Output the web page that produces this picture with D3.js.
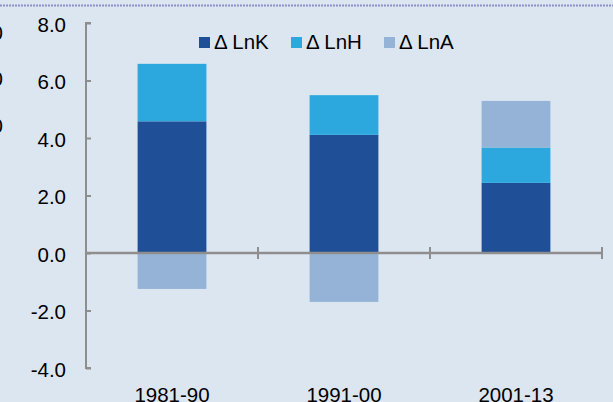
<!DOCTYPE html>
<html><head><meta charset="utf-8">
<script src="https://cdn.jsdelivr.net/npm/d3@7"></script>
<style>
html,body{margin:0;padding:0;background:#DCE6F1;}
svg{display:block;font-family:"Liberation Sans",Arial,sans-serif;}
</style></head>
<body>
<svg id="chart" width="613" height="402"></svg>
<script>
const categories = ["1981-90", "1991-00", "2001-13"];
const seriesNames = ["Δ LnK", "Δ LnH", "Δ LnA"];
const lnK = [4.58, 4.11, 2.44];
const lnH = [2.00, 1.38, 1.23];
const lnA = [-1.25, -1.70, 1.62];
const yTicks = [-4, -2, 0, 2, 4, 6, 8];
const colors = ["#1F4F97", "#2CA8DE", "#95B3D7"];

const svg = d3.select("#chart");
const W = 613, H = 402;
const FS = 20.5;
svg.append("rect").attr("width", W).attr("height", H).attr("fill", "#DCE6F1");

// dotted top border
svg.append("line").attr("x1", 0).attr("x2", W).attr("y1", 5.5).attr("y2", 5.5)
  .attr("stroke", "#8C90C8").attr("stroke-width", 2).attr("stroke-dasharray", "2,1");

// cut-off glyphs of neighbouring chart at left edge
[33, 79, 126].forEach(yy => {
  svg.append("text").attr("x", 3).attr("y", yy + 7)
    .attr("text-anchor", "end").attr("font-size", FS).attr("fill", "#000").text("0");
});

const table = categories.map((c, i) => ({cat: c, "Δ LnK": lnK[i], "Δ LnH": lnH[i], "Δ LnA": lnA[i]}));

const x = d3.scaleBand().domain(categories).range([86, 602]).paddingInner(0.6).paddingOuter(0.3);
const y = d3.scaleLinear().domain([-4, 8]).range([368, 23]);

const stack = d3.stack().keys(seriesNames).offset(d3.stackOffsetDiverging);
const layers = stack(table);

svg.append("g").selectAll("g").data(layers).join("g")
  .attr("fill", (d, i) => colors[i])
  .selectAll("rect").data(d => d).join("rect")
  .attr("x", d => x(d.data.cat))
  .attr("width", x.bandwidth())
  .attr("y", d => y(Math.max(d[0], d[1])))
  .attr("height", d => Math.abs(y(d[0]) - y(d[1])));

const axisColor = "#8E8E8E";
// y axis
const yAxis = svg.append("g").attr("transform", "translate(86,0)")
  .call(d3.axisRight(y).tickValues(yTicks).tickSize(5).tickFormat(""));
yAxis.select(".domain").attr("d", `M5,${y(8)}H0V${y(-4)}H5`).attr("stroke", axisColor).attr("stroke-width", 2);
yAxis.selectAll(".tick line").attr("stroke", axisColor).attr("stroke-width", 2);

svg.append("g").selectAll("text").data(yTicks).join("text")
  .attr("x", 66).attr("y", d => y(d) + 8.5)
  .attr("text-anchor", "end").attr("font-size", FS).attr("fill", "#000")
  .text(d => d.toFixed(1));

// x axis at zero
svg.append("line").attr("x1", 86).attr("x2", 603).attr("y1", y(0)).attr("y2", y(0))
  .attr("stroke", axisColor).attr("stroke-width", 2.5);
const tickXs = categories.map(c => x(c) + x.bandwidth() / 2 + x.step() / 2);
svg.append("g").selectAll("line").data(tickXs).join("line")
  .attr("x1", d => d).attr("x2", d => d).attr("y1", y(0) - 6).attr("y2", y(0) + 6)
  .attr("stroke", axisColor).attr("stroke-width", 2);

// x labels
svg.append("g").selectAll("text").data(categories).join("text")
  .attr("x", d => x(d) + x.bandwidth() / 2).attr("y", 401.5)
  .attr("text-anchor", "middle").attr("font-size", FS).attr("fill", "#000").text(d => d);

// legend
const legX = [199, 291, 384];
const leg = svg.append("g").selectAll("g").data(seriesNames).join("g")
  .attr("transform", (d, i) => `translate(${legX[i]},37)`);
leg.append("rect").attr("width", 11).attr("height", 11).attr("fill", (d, i) => colors[i]);
leg.append("text").attr("x", 15).attr("y", 12)
  .attr("font-size", FS).attr("fill", "#000").text(d => d);
</script>
</body></html>
